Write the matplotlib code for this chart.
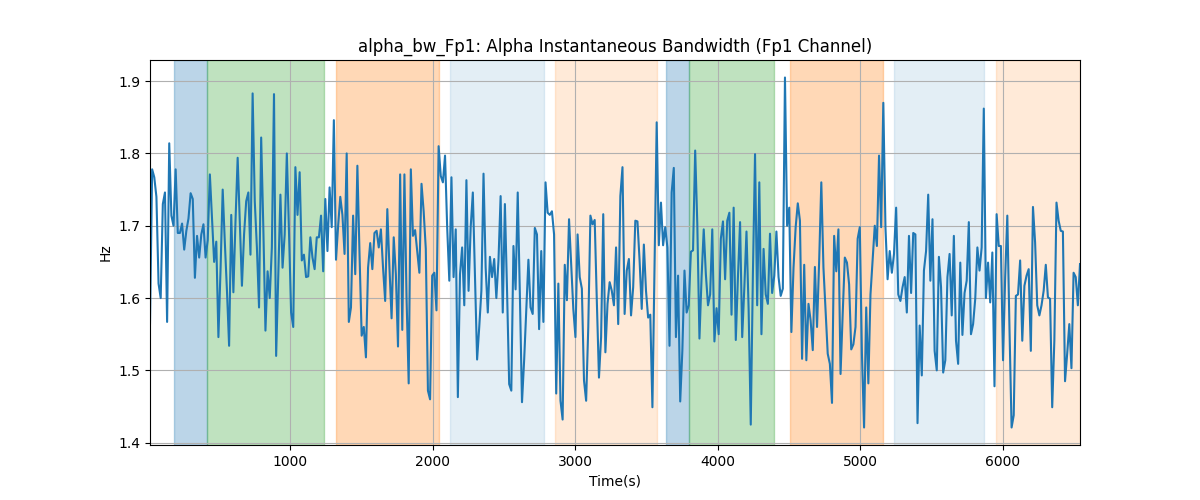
import numpy as np
import matplotlib
matplotlib.use("Agg")
import matplotlib.pyplot as plt

# values, left to right
seg1 = [1.565, 1.778, 1.767, 1.74, 1.62, 1.60, 1.73, 1.746, 1.567, 1.814, 1.714, 1.70, 1.778, 1.69, 1.69,
        1.703, 1.667, 1.693, 1.71, 1.745, 1.737, 1.628, 1.686, 1.656, 1.688, 1.702, 1.656, 1.68, 1.771, 1.71,
        1.65, 1.678, 1.546, 1.64, 1.75, 1.677, 1.61, 1.534, 1.715, 1.608, 1.707, 1.794, 1.707, 1.617, 1.688,
        1.734, 1.746, 1.66, 1.883, 1.734, 1.67, 1.587, 1.822, 1.698, 1.555, 1.637, 1.60, 1.67, 1.882, 1.52,
        1.633, 1.743, 1.642, 1.688, 1.80, 1.693, 1.58, 1.56, 1.781, 1.715, 1.774, 1.652, 1.66, 1.629, 1.63,
        1.684, 1.656, 1.64, 1.684, 1.684, 1.714, 1.637, 1.737, 1.665, 1.753, 1.698, 1.846, 1.653, 1.70, 1.74]
seg2 = [1.715, 1.661, 1.80, 1.567, 1.587, 1.714, 1.633, 1.783, 1.661, 1.548, 1.56, 1.518, 1.642, 1.676, 1.64,
        1.69, 1.693, 1.67, 1.695, 1.642, 1.596, 1.723, 1.642, 1.572, 1.684, 1.633, 1.533, 1.771, 1.556, 1.771,
        1.60, 1.482, 1.778, 1.686, 1.694, 1.665, 1.635, 1.758, 1.72, 1.668, 1.472, 1.46, 1.631, 1.635, 1.583,
        1.81, 1.769, 1.76, 1.797, 1.698, 1.624, 1.767, 1.629, 1.695, 1.463, 1.633, 1.67, 1.59, 1.763, 1.61,
        1.698, 1.746, 1.629, 1.515, 1.56, 1.61, 1.772, 1.642, 1.58, 1.657, 1.629, 1.654, 1.60, 1.652, 1.741,
        1.58, 1.73, 1.611, 1.481, 1.472, 1.672, 1.612, 1.746, 1.605, 1.456, 1.514, 1.583, 1.653, 1.587, 1.578,
        1.697, 1.688, 1.557]
seg3 = [1.665, 1.567, 1.76, 1.718, 1.715, 1.72, 1.688, 1.468, 1.62, 1.458, 1.432, 1.646, 1.597, 1.709, 1.647,
        1.585, 1.546, 1.688, 1.629, 1.613, 1.486, 1.458, 1.56, 1.714, 1.702, 1.708, 1.596, 1.49, 1.546, 1.716,
        1.525, 1.592, 1.622, 1.61, 1.59, 1.67, 1.564, 1.741, 1.781, 1.578, 1.638, 1.654, 1.576, 1.615, 1.707,
        1.706, 1.652, 1.585, 1.674, 1.61, 1.573, 1.577, 1.449, 1.647, 1.843, 1.673, 1.732, 1.673, 1.698, 1.67,
        1.534, 1.746, 1.78, 1.546, 1.631, 1.457, 1.527, 1.638, 1.58, 1.59, 1.664, 1.666, 1.804, 1.702, 1.544,
        1.629, 1.695, 1.633, 1.59, 1.605, 1.695, 1.54, 1.586, 1.55, 1.682, 1.706, 1.626, 1.707, 1.718, 1.577,
        1.725]
seg4 = [1.542, 1.629, 1.705, 1.546, 1.615, 1.692, 1.585, 1.425, 1.633, 1.799, 1.59, 1.76, 1.55, 1.668, 1.605,
        1.592, 1.689, 1.607, 1.631, 1.692, 1.629, 1.603, 1.613, 1.905, 1.70, 1.725, 1.553, 1.642, 1.698, 1.731,
        1.707, 1.516, 1.646, 1.514, 1.592, 1.569, 1.528, 1.643, 1.56, 1.652, 1.76, 1.642, 1.583, 1.523, 1.509,
        1.455, 1.686, 1.637, 1.695, 1.495, 1.578, 1.656, 1.649, 1.619, 1.529, 1.536, 1.56, 1.682, 1.698, 1.523,
        1.421, 1.587, 1.482, 1.605, 1.652, 1.70, 1.672, 1.797, 1.698, 1.87, 1.698, 1.626, 1.665, 1.635, 1.661,
        1.725, 1.605, 1.596, 1.615, 1.629, 1.58, 1.686, 1.607, 1.69, 1.688, 1.427, 1.562, 1.493, 1.638, 1.665,
        1.743]
seg5 = [1.624, 1.709, 1.527, 1.5, 1.657, 1.615, 1.497, 1.514, 1.629, 1.661, 1.576, 1.686, 1.541, 1.509, 1.649,
        1.549, 1.607, 1.624, 1.705, 1.55, 1.564, 1.599, 1.67, 1.638, 1.67, 1.862, 1.60, 1.649, 1.594, 1.663,
        1.478, 1.716, 1.672, 1.672, 1.514, 1.629, 1.714, 1.56, 1.421, 1.438, 1.603, 1.605, 1.652, 1.541, 1.617,
        1.631, 1.64, 1.527, 1.726, 1.677, 1.59, 1.576, 1.59, 1.61, 1.646, 1.601, 1.599, 1.449, 1.541, 1.732,
        1.707, 1.693, 1.692, 1.485, 1.523, 1.564, 1.503, 1.635, 1.629, 1.59, 1.647]

values = np.array(seg1 + seg2 + seg3 + seg4 + seg5)
t_start, t_end = 18, 6540
times = np.linspace(t_start, t_end, len(values))

# shaded periods: (start, end, colour, alpha)
span_starts = [188, 419, 1322, 2121, 2858, 3636, 3797, 4506, 5235, 5950]
span_ends = [419, 1236, 2044, 2783, 3573, 3797, 4391, 5156, 5866, 6540]
span_colors = ["tab:blue", "tab:green", "tab:orange", "tab:blue", "tab:orange",
               "tab:blue", "tab:green", "tab:orange", "tab:blue", "tab:orange"]
span_alphas = [0.3, 0.3, 0.3, 0.12, 0.16, 0.3, 0.3, 0.3, 0.12, 0.16]

fig, ax = plt.subplots(figsize=(12, 5), dpi=100)
for s, e, c, a in zip(span_starts, span_ends, span_colors, span_alphas):
    ax.axvspan(s, e, color=c, alpha=a)
ax.plot(times, values, color="tab:blue")
ax.set_xlim(times[0], times[-1])
ax.set_title("alpha_bw_Fp1: Alpha Instantaneous Bandwidth (Fp1 Channel)")
ax.set_xlabel("Time(s)")
ax.set_ylabel("Hz")
ax.grid(True)
fig.savefig("out.png")
